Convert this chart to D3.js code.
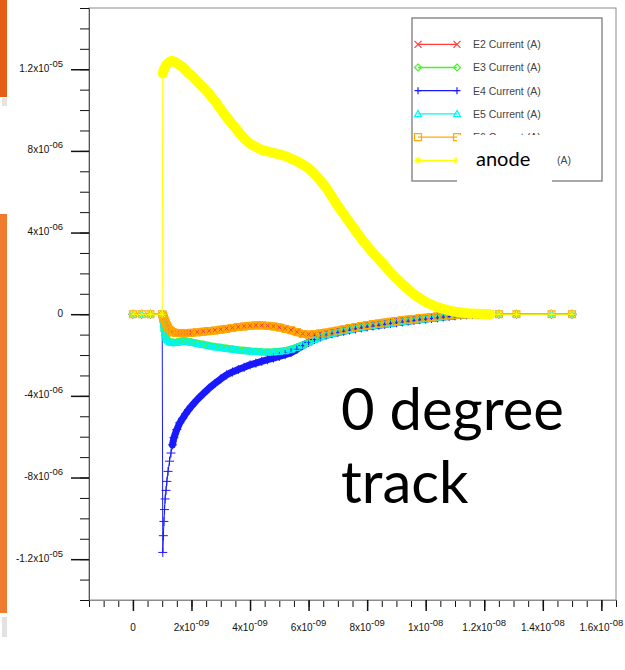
<!DOCTYPE html>
<html>
<head>
<meta charset="utf-8">
<script src="https://cdn.jsdelivr.net/npm/d3@7"></script>
<style>
  body { margin: 0; background: #fff; }
  svg { display: block; }
</style>
</head>
<body>
<div id="chart"></div>
<script>
//Canvas dimensions and plot frame
var width = 625,
    height = 670;

var plot = { left: 89, right: 616, top: 8, bottom: 600 };

//Time samples in ns (shared by all series)
var times = [0, 0.3, 0.6, 1.0, 1.02, 1.04, 1.06, 1.08, 1.1, 1.13, 1.16, 1.2, 1.25, 1.3, 1.35, 1.4,
  1.5, 1.6, 1.7, 1.8, 1.9, 2.0,
  2.2, 2.4, 2.6, 2.8, 3.0, 3.2, 3.4, 3.6, 3.8, 4.0,
  4.2, 4.4, 4.6, 4.8, 5.0, 5.2, 5.4, 5.6, 5.8, 6.0,
  6.2, 6.4, 6.6, 6.8, 7.0, 7.2, 7.4, 7.6, 7.8, 8.0,
  8.2, 8.4, 8.6, 8.8, 9.0, 9.2, 9.4, 9.6, 9.8, 10.0,
  10.2, 10.4, 10.6, 10.8, 11.0, 11.2, 11.4, 11.6, 11.8, 12.0,
  12.2, 12.5, 13.1, 14.3, 15.0];

//Currents in uA
var e2 = [0, 0, 0, 0, -0.04, -0.1, -0.18, -0.26, -0.34, -0.44, -0.54, -0.64, -0.74, -0.81, -0.86, -0.89,
  -0.91, -0.92, -0.92, -0.91, -0.9, -0.89,
  -0.87, -0.84, -0.81, -0.78, -0.74, -0.7, -0.66, -0.62, -0.59, -0.56,
  -0.54, -0.54, -0.56, -0.59, -0.64, -0.7, -0.77, -0.86, -0.95, -0.99,
  -0.97, -0.93, -0.89, -0.84, -0.79, -0.73, -0.67, -0.62, -0.57, -0.52,
  -0.48, -0.44, -0.4, -0.36, -0.32, -0.28, -0.25, -0.22, -0.19, -0.16,
  -0.13, -0.1, -0.07, -0.05, -0.03, -0.02, -0.01, 0, 0, 0,
  0, 0, 0, 0, 0];

var e3 = [0, 0, 0, 0, -0.18, -0.42, -0.66, -0.86, -1.0, -1.1, -1.2, -1.28, -1.33, -1.36, -1.37, -1.37,
  -1.36, -1.33, -1.3, -1.3, -1.33, -1.36,
  -1.42, -1.47, -1.53, -1.58, -1.62, -1.66, -1.7, -1.74, -1.77, -1.8,
  -1.82, -1.84, -1.85, -1.84, -1.82, -1.78, -1.71, -1.61, -1.5, -1.38,
  -1.23, -1.1, -1.0, -0.93, -0.86, -0.8, -0.74, -0.69, -0.64, -0.59,
  -0.55, -0.51, -0.47, -0.44, -0.4, -0.36, -0.32, -0.29, -0.25, -0.22,
  -0.19, -0.16, -0.12, -0.09, -0.06, -0.04, -0.02, -0.01, 0, 0,
  0, 0, 0, 0, 0];

var e4 = [0, 0, 0, 0, -11.67, -10.85, -10.15, -9.57, -9.05, -8.63, -8.19, -7.7, -7.2, -6.8, -6.4, -6.05,
  -5.65, -5.32, -5.1, -4.88, -4.68, -4.5,
  -4.18, -3.9, -3.63, -3.39, -3.17, -2.97, -2.83, -2.71, -2.6, -2.48,
  -2.4, -2.31, -2.23, -2.15, -2.07, -1.98, -1.88, -1.72, -1.54, -1.38,
  -1.24, -1.12, -1.03, -0.96, -0.9, -0.84, -0.78, -0.72, -0.67, -0.62,
  -0.58, -0.54, -0.5, -0.46, -0.42, -0.38, -0.34, -0.31, -0.27, -0.24,
  -0.21, -0.18, -0.14, -0.11, -0.08, -0.05, -0.03, -0.01, 0, 0,
  0, 0, 0, 0, 0];

var e5 = [0, 0, 0, 0, -0.2, -0.45, -0.7, -0.9, -1.03, -1.15, -1.25, -1.32, -1.36, -1.39, -1.4, -1.4,
  -1.39, -1.36, -1.33, -1.33, -1.36, -1.39,
  -1.45, -1.5, -1.56, -1.61, -1.65, -1.69, -1.72, -1.76, -1.79, -1.81,
  -1.83, -1.85, -1.86, -1.85, -1.83, -1.8, -1.73, -1.63, -1.52, -1.4,
  -1.25, -1.12, -1.02, -0.95, -0.88, -0.82, -0.76, -0.7, -0.65, -0.6,
  -0.56, -0.52, -0.49, -0.45, -0.41, -0.37, -0.33, -0.3, -0.26, -0.23,
  -0.2, -0.17, -0.13, -0.1, -0.07, -0.04, -0.02, -0.01, 0, 0,
  0, 0, 0, 0, 0];

var e6 = [0, 0, 0, 0, -0.05, -0.12, -0.2, -0.28, -0.35, -0.45, -0.55, -0.65, -0.75, -0.82, -0.87, -0.9,
  -0.92, -0.93, -0.93, -0.92, -0.92, -0.91,
  -0.89, -0.86, -0.83, -0.8, -0.76, -0.72, -0.67, -0.63, -0.6, -0.57,
  -0.55, -0.55, -0.57, -0.6, -0.65, -0.72, -0.79, -0.88, -0.97, -1.0,
  -0.98, -0.94, -0.9, -0.85, -0.8, -0.74, -0.68, -0.63, -0.58, -0.53,
  -0.49, -0.45, -0.41, -0.37, -0.33, -0.29, -0.26, -0.23, -0.2, -0.17,
  -0.14, -0.11, -0.08, -0.05, -0.03, -0.02, -0.01, 0, 0, 0,
  0, 0, 0, 0, 0];

var anode = [0, 0, 0, 0, 11.8, 11.9, 12.0, 12.05, 12.1, 12.2, 12.25, 12.3, 12.35, 12.4, 12.4, 12.38,
  12.3, 12.2, 12.1, 11.95, 11.8, 11.7,
  11.4, 11.1, 10.8, 10.45, 10.05, 9.65, 9.3, 8.95, 8.6, 8.35,
  8.2, 8.05, 7.98, 7.9, 7.83, 7.75, 7.62, 7.5, 7.33, 7.15,
  6.88, 6.55, 6.2, 5.75, 5.3, 4.9, 4.5, 4.1, 3.7, 3.35,
  3.0, 2.7, 2.38, 2.05, 1.75, 1.48, 1.22, 0.97, 0.78, 0.6,
  0.46, 0.35, 0.26, 0.18, 0.12, 0.08, 0.05, 0.03, 0.02, 0.01,
  0, 0, 0, 0, 0];

var seriesNames = ["E2 Current (A)", "E3 Current (A)", "E4 Current (A)", "E5 Current (A)", "E6 Current (A)", "anode Current (A)"];
var seriesValues = [e2, e3, e4, e5, e6, anode];
var seriesColors = ["#ff3c3c", "#4cf02c", "#1a1aff", "#00f6f6", "#ffaa00", "#ffff00"];
var seriesMarkers = ["x", "diamond", "plus", "triangle", "square", "asterisk"];

//Where the simulation output is dense enough to merge into a band
var bandStart = [1.02, 1.02, 1.35, 1.02, 1.02, 1.02],
    bandEnd = 12.2,
    bandWidths = [7, 7, 7, 7, 8, 10];

//Axis ticks (time in ns, current in uA)
var xMajorTicks = [0, 2, 4, 6, 8, 10, 12, 14, 16];
var yMajorTicks = [-12, -8, -4, 0, 4, 8, 12];
var xMinorStep = 0.5,
    yMinorStep = 1;

var x = d3.scaleLinear().domain([-1.5, 16.5]).range([plot.left, plot.right]);
var y = d3.scaleLinear().domain([-14, 15]).range([plot.bottom, plot.top]);

var svg = d3.select("#chart")
            .append("svg")
            .attr("width", width)
            .attr("height", height);

//Edge of the slide behind the chart
svg.append("rect").attr("x", 0).attr("y", 0).attr("width", 7).attr("height", 97).attr("fill", "#e65d18");
svg.append("rect").attr("x", 2).attr("y", 98).attr("width", 5).attr("height", 8).attr("fill", "#e4e4e4");
svg.append("rect").attr("x", 0).attr("y", 214).attr("width", 7).attr("height", 399).attr("fill", "#ef7c2e");
svg.append("rect").attr("x", 2).attr("y", 617).attr("width", 5).attr("height", 20).attr("fill", "#e2e2e2");

//Plot frame
svg.append("rect")
   .attr("x", plot.left)
   .attr("y", plot.top)
   .attr("width", plot.right - plot.left)
   .attr("height", plot.bottom - plot.top)
   .attr("fill", "none")
   .attr("stroke", "#8c8c8c");

//Axes: minor then major ticks
var yMinor = d3.range(-14, 15 + 0.001, yMinorStep);
var xMinor = d3.range(-1.5, 16.5 + 0.001, xMinorStep);

var yAxisG = svg.append("g").attr("transform", "translate(" + plot.left + ",0)").attr("color", "#111");
yAxisG.append("g").call(d3.axisLeft(y).tickValues(yMinor).tickSize(9).tickSizeOuter(0).tickFormat(""));
yAxisG.append("g").call(d3.axisLeft(y).tickValues(yMajorTicks).tickSize(18).tickSizeOuter(0).tickFormat(""))
      .selectAll(".tick line").attr("stroke-width", 1.5);
yAxisG.selectAll(".domain").attr("stroke", "#555");

var xAxisG = svg.append("g").attr("transform", "translate(0," + plot.bottom + ")").attr("color", "#111");
xAxisG.append("g").call(d3.axisBottom(x).tickValues(xMinor).tickSize(7).tickSizeOuter(0).tickFormat(""));
xAxisG.append("g").call(d3.axisBottom(x).tickValues(xMajorTicks).tickSize(11).tickSizeOuter(0).tickFormat(""))
      .selectAll(".tick line").attr("stroke-width", 1.5);
xAxisG.selectAll(".domain").attr("stroke", "#8c8c8c");

//Scientific tick labels like "1.2x10^-05"
function sciParts(v, unitExp) {
  if (v === 0) return ["0", ""];
  var real = v * Math.pow(10, unitExp);
  var e = Math.floor(Math.log10(Math.abs(real)) + 1e-9);
  var m = +(real / Math.pow(10, e)).toFixed(2);
  var es = (e < 0 ? "-" : "") + d3.format("02d")(Math.abs(e));
  return [String(m) + "x10", es];
}

function drawLabel(sel, parts) {
  sel.append("tspan").text(parts[0]);
  if (parts[1]) sel.append("tspan").attr("dy", -5).attr("font-size", 9.5).text(parts[1]);
}

svg.selectAll(".ylab")
   .data(yMajorTicks)
   .enter()
   .append("text")
   .attr("class", "ylab")
   .attr("x", plot.left - 26)
   .attr("y", function(d) { return y(d) + 2.5; })
   .attr("text-anchor", "end")
   .attr("font-family", "'Liberation Sans', Arial, sans-serif")
   .attr("font-size", 10)
   .attr("fill", "#111")
   .each(function(d) { drawLabel(d3.select(this), sciParts(d, -6)); });

svg.selectAll(".xlab")
   .data(xMajorTicks)
   .enter()
   .append("text")
   .attr("class", "xlab")
   .attr("x", function(d) { return x(d); })
   .attr("y", 631)
   .attr("text-anchor", "middle")
   .attr("font-family", "'Liberation Sans', Arial, sans-serif")
   .attr("font-size", 10)
   .attr("fill", "#111")
   .each(function(d) { drawLabel(d3.select(this), sciParts(d, -9)); });

//Marker shapes (stroked, not filled)
function markerPath(type, s) {
  var k = s * 0.75;
  switch (type) {
    case "x": return "M" + (-s) + "," + (-s) + "L" + s + "," + s + "M" + (-s) + "," + s + "L" + s + "," + (-s);
    case "plus": return "M" + (-s) + ",0H" + s + "M0," + (-s) + "V" + s;
    case "diamond": return "M0," + (-s) + "L" + s + ",0L0," + s + "L" + (-s) + ",0Z";
    case "triangle": return "M0," + (-s) + "L" + s + "," + (s * 0.8) + "L" + (-s) + "," + (s * 0.8) + "Z";
    case "square": return "M" + (-s) + "," + (-s) + "H" + s + "V" + s + "H" + (-s) + "Z";
    case "asterisk": return "M" + (-s) + ",0H" + s + "M0," + (-s) + "V" + s +
                            "M" + (-k) + "," + (-k) + "L" + k + "," + k + "M" + (-k) + "," + k + "L" + k + "," + (-k);
  }
}
var markerSize = { x: 3.5, diamond: 3.5, plus: 4.5, triangle: 3.5, square: 3.5, asterisk: 4 };

var line = d3.line()
             .x(function(d) { return x(d.t); })
             .y(function(d) { return y(d.v); });

var bandLayer = svg.append("g"),
    markerLayer = svg.append("g"),
    topLayer = svg.append("g");

seriesValues.forEach(function(vals, i) {
  var pts = times.map(function(t, j) { return { t: t, v: vals[j] }; });
  var band = pts.filter(function(d) { return d.t >= bandStart[i] && d.t <= bandEnd; });
  var last = (i === seriesValues.length - 1);
  var lb = last ? topLayer : bandLayer,
      lm = last ? topLayer : markerLayer;

  lb.append("path")
    .datum(band)
    .attr("d", line)
    .attr("fill", "none")
    .attr("stroke", seriesColors[i])
    .attr("stroke-width", bandWidths[i])
    .attr("stroke-linecap", "round")
    .attr("stroke-linejoin", "round");

  lb.append("path")
    .datum(pts)
    .attr("d", line)
    .attr("fill", "none")
    .attr("stroke", seriesColors[i])
    .attr("stroke-width", 1);

  lm.selectAll(null)
    .data(pts)
    .enter()
    .append("path")
    .attr("transform", function(d) { return "translate(" + x(d.t) + "," + y(d.v) + ")"; })
    .attr("d", markerPath(seriesMarkers[i], markerSize[seriesMarkers[i]]))
    .attr("fill", "none")
    .attr("stroke", seriesColors[i])
    .attr("stroke-width", 1);
});

//Legend
var legend = svg.append("g");
legend.append("rect")
      .attr("x", 412).attr("y", 18)
      .attr("width", 190).attr("height", 163)
      .attr("fill", "#fff")
      .attr("stroke", "#8c8c8c")
      .attr("stroke-width", 1.5);

seriesNames.forEach(function(name, i) {
  var ly = 44.3 + i * 23.2;
  var row = legend.append("g");
  row.append("line")
     .attr("x1", 418).attr("x2", 457)
     .attr("y1", ly).attr("y2", ly)
     .attr("stroke", seriesColors[i])
     .attr("stroke-width", 1.3);
  [418, 457].forEach(function(mx) {
    row.append("path")
       .attr("transform", "translate(" + mx + "," + ly + ")")
       .attr("d", markerPath(seriesMarkers[i], 3.5))
       .attr("fill", "none")
       .attr("stroke", seriesColors[i])
       .attr("stroke-width", 1.2);
  });
  //the last label is pasted over on the slide: only its unit stays visible
  var last = (i === seriesNames.length - 1);
  row.append("text")
     .attr("x", last ? 557 : 473)
     .attr("y", ly + 3.8)
     .attr("font-family", "'Liberation Sans', Arial, sans-serif")
     .attr("font-size", 10.5)
     .attr("fill", "#444")
     .text(last ? name.slice(name.lastIndexOf("(")) : name);
});

//Pasted-over label box
svg.append("rect")
   .attr("x", 457).attr("y", 135)
   .attr("width", 95).attr("height", 50)
   .attr("fill", "#fff");
svg.append("text")
   .attr("x", 476).attr("y", 166)
   .attr("font-family", "Lato, 'Open Sans', sans-serif")
   .attr("font-size", 20)
   .attr("fill", "#000")
   .text("anode");

//Annotation
var note = svg.append("text")
              .attr("font-family", "Lato, 'Open Sans', sans-serif")
              .attr("font-size", 58)
              .attr("fill", "#000");
note.append("tspan").attr("x", 341).attr("y", 430).text("0 degree");
note.append("tspan").attr("x", 341).attr("y", 503).text("track");
</script>
</body>
</html>
